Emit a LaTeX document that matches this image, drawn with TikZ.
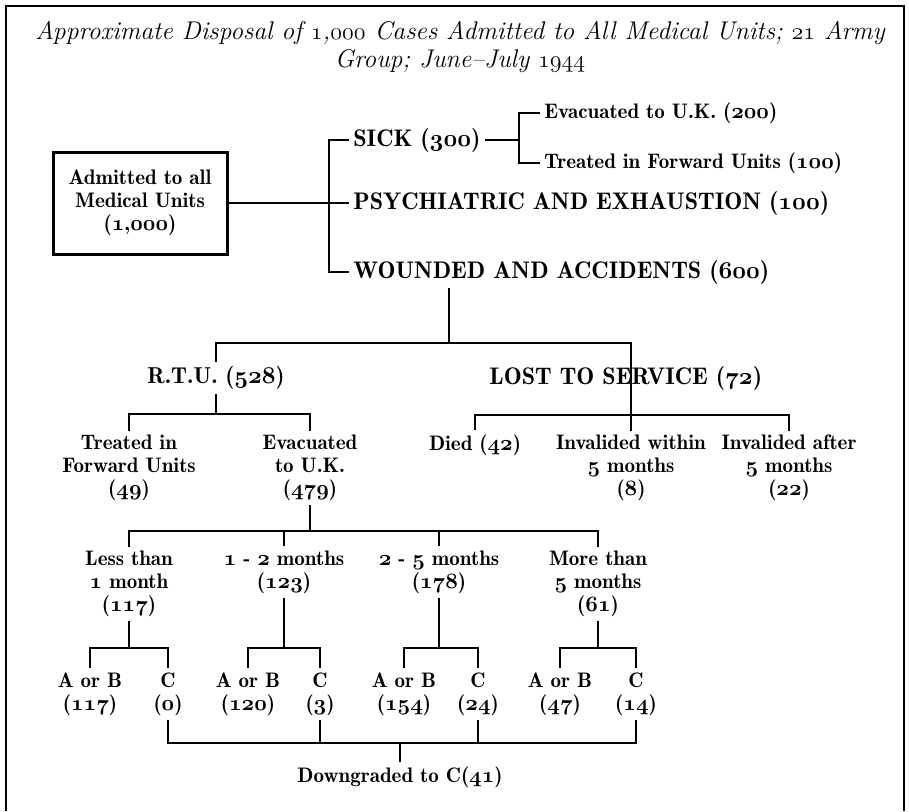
\documentclass[tikz,border=0pt]{standalone}
\usepackage{tikz}
\newcommand{\on}[1]{{\fontencoding{OML}\fontfamily{cmm}\fontshape{it}\selectfont#1}}

\begin{document}
\begin{tikzpicture}[x=0.5pt, y=-0.5pt, align=center,
  lbl/.style={font=\fontsize{10.5}{11.5}\fontseries{b}\selectfont, inner sep=2pt},
  caps/.style={font=\fontsize{12}{13}\fontseries{b}\selectfont, inner sep=2pt},
  wire/.style={line width=1.3pt}]
\useasboundingbox (0,0) rectangle (909,811);
\draw[wire] (6,811) -- (6,6) -- (904,6) -- (904,811);

% title and the first split
\path (460,47) node[font=\fontsize{12.8}{14}\itshape] (title) {Approximate Disposal of \on{1},\on{000} Cases Admitted to All Medical Units; \on{21} Army\\Group; June--July \on{1944}}
      (140,203) node[lbl, draw, line width=1.5pt, minimum width=87pt, minimum height=51pt] (adm) {Admitted to all\\Medical Units\\(\on{1},\on{000})}
      (349,140) node[caps, anchor=west] (sick) {SICK (\on{300})}
      (349,203) node[caps, anchor=west] (psych) {PSYCHIATRIC AND EXHAUSTION (\on{100})}
      (349,272) node[caps, anchor=west] (wound) {WOUNDED AND ACCIDENTS (\on{600})}
      (540,113) node[lbl, anchor=west] (evuk) {Evacuated to U.K. (\on{200})}
      (540,163) node[lbl, anchor=west] (tfu) {Treated in Forward Units (\on{100})};

% wounded
\path (216,378) node[lbl, font=\fontsize{11.5}{13}\fontseries{b}\selectfont] (rtu) {R.T.U. (\on{528})}
      (485,378) node[caps, anchor=west] (lost) {LOST TO SERVICE (\on{72})}
      (129,468) node[lbl] (tfw) {Treated in\\Forward Units\\(\on{49})}
      (310,468) node[lbl] (evk) {Evacuated\\to U.K.\\(\on{479})}
      (475,445) node[lbl] (died) {Died (\on{42})}
      (631,468) node[lbl] (invw) {Invalided within\\\on{5} months\\(\on{8})}
      (789,468) node[lbl] (inva) {Invalided after\\\on{5} months\\(\on{22})};

% evacuated to U.K.
\path (129,584) node[lbl] (les) {Less than\\\on{1} month\\(\on{117})}
      (284,572) node[lbl] (m12) {\on{1} - \on{2} months\\(\on{123})}
      (439,572) node[lbl] (m25) {\on{2} - \on{5} months\\(\on{178})}
      (598,584) node[lbl] (m5p) {More than\\\on{5} months\\(\on{61})}
      (90,694) node[lbl] (ab1) {A or B\\(\on{117})}
      (168,694) node[lbl] (c1) {C\\(\on{0})}
      (248,694) node[lbl] (ab2) {A or B\\(\on{120})}
      (320,694) node[lbl] (c2) {C\\(\on{3})}
      (404,694) node[lbl] (ab3) {A or B\\(\on{154})}
      (478,694) node[lbl] (c3) {C\\(\on{24})}
      (560,694) node[lbl] (ab4) {A or B\\(\on{47})}
      (636,694) node[lbl] (c4) {C\\(\on{14})}
      (400,777) node[lbl] (down) {Downgraded to C(\on{41})};

% junctions
\coordinate (b0) at (329,203);
\coordinate (b1) at (519,140);
\coordinate (b2) at (449,343);
\coordinate (b3) at (631,415);
\coordinate (b4) at (216,414);
\coordinate (b5) at (310,531);
\coordinate (ylev) at (0,648);
\coordinate (b6) at (400,743);

\draw[wire] (adm) -- (psych.west);
\draw[wire] (sick.west) -| (b0) |- (wound.west);
\draw[wire] (sick.east) -- (b1);
\draw[wire] (evuk.west) -| (b1) |- (tfu.west);

\draw[wire] (b2 |- wound.south) -- (b2);
\draw[wire] (rtu.north) |- (b2) -| (invw.north);
\draw[wire] (died.north) |- (b3) -| (inva.north);
\draw[wire] (rtu.south) -- (b4);
\draw[wire] (tfw.north) |- (b4) -| (evk.north);

\draw[wire] (evk.south) -- (b5);
\draw[wire] (les.north) |- (b5) -| (m5p.north);
\draw[wire] (m12.north) -- (m12.north |- b5);
\draw[wire] (m25.north) -- (m25.north |- b5);
\foreach \m/\a/\c in {les/ab1/c1, m12/ab2/c2, m25/ab3/c3, m5p/ab4/c4} {
  \draw[wire] (\m.south) -- (\m.south |- ylev);
  \draw[wire] (\a.north) |- (\m.south |- ylev) -| (\c.north);
}

\draw[wire] (c1.south) |- (b6) -| (c4.south);
\draw[wire] (c2.south) -- (c2.south |- b6);
\draw[wire] (c3.south) -- (c3.south |- b6);
\draw[wire] (down.north) -- (b6);

\end{tikzpicture}
\end{document}
